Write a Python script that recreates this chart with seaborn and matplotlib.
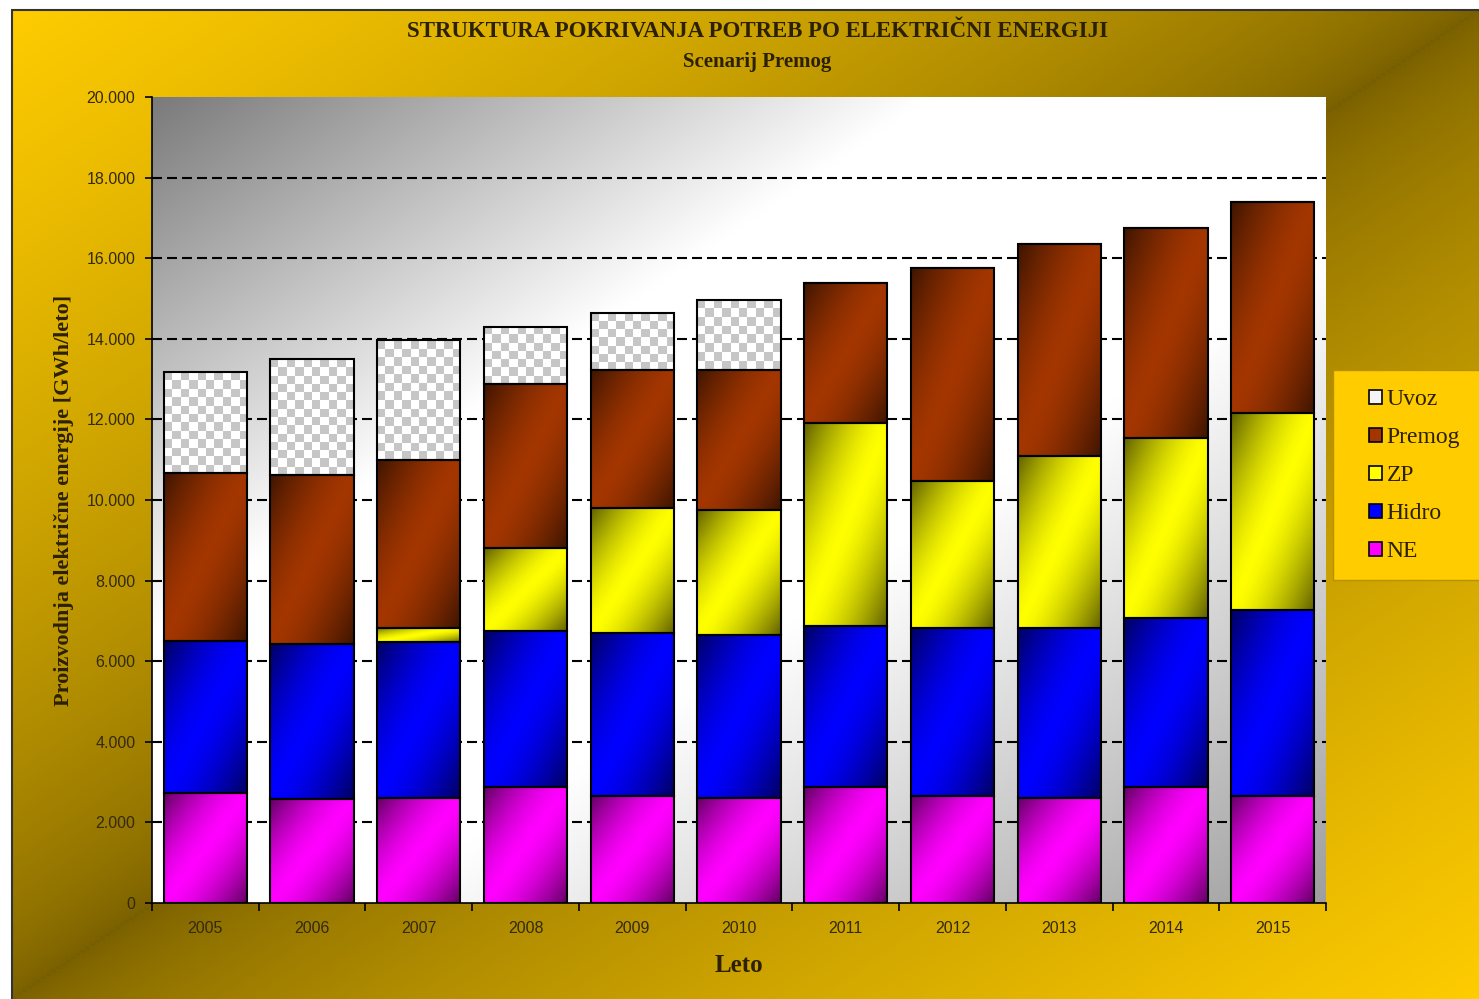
import numpy as np
import pandas as pd
import matplotlib.pyplot as plt
import seaborn as sns
from matplotlib.patches import Patch, Rectangle
from matplotlib.ticker import FuncFormatter

sns.set_theme(style="ticks")
plt.rcParams['font.family'] = ['Liberation Sans', 'DejaVu Sans']

years = ["2005", "2006", "2007", "2008", "2009", "2010", "2011", "2012", "2013", "2014", "2015"]
ne = [2730, 2580, 2610, 2880, 2660, 2610, 2880, 2660, 2610, 2880, 2660]
hidro = [3780, 3850, 3870, 3880, 4050, 4050, 4000, 4170, 4220, 4180, 4620]
zp = [0, 0, 350, 2040, 3080, 3080, 5020, 3630, 4270, 4470, 4870]
premog = [4170, 4200, 4170, 4070, 3430, 3480, 3480, 5290, 5250, 5220, 5240]
uvoz = [2490, 2860, 2960, 1420, 1410, 1740, 0, 0, 0, 0, 0]

series = ["NE", "Hidro", "ZP", "Premog", "Uvoz"]
df = pd.DataFrame({"Leto": years, "NE": ne, "Hidro": hidro, "ZP": zp, "Premog": premog, "Uvoz": uvoz})
colors = {"NE": "#FF00FF", "Hidro": "#0000FF", "ZP": "#FFFF00", "Premog": "#A33600", "Uvoz": "#F4F4F4"}

serif = "Liberation Serif"
dark_txt = "#2b2000"

fig = plt.figure(figsize=(14.79, 9.99), dpi=100)
fig.patch.set_facecolor("white")

# golden diagonal background of the whole chart
bg = fig.add_axes([12 / 1479, 0, 1 - 12 / 1479, 1 - 10 / 999], zorder=-10)
u = np.linspace(0, 1, 300)[None, :]
v = np.linspace(0, 1, 300)[:, None]
f = np.abs((u + v) / 2 - 0.5) * 2
bright = np.array([1.0, 0.80, 0.0])
darkc = np.array([0.47, 0.37, 0.0])
bg.imshow(darkc + (bright - darkc) * (f ** 0.65)[..., None], aspect="auto", extent=[0, 1, 0, 1])
bg.set_axis_off()
fig.add_artist(Rectangle((12 / 1479, -0.01), 1.0, 1 - 10 / 999 + 0.01, transform=fig.transFigure,
                         fill=False, edgecolor="#333333", lw=1.5))

ax = fig.add_axes([152 / 1479, 1 - 903 / 999, 1174 / 1479, 806 / 999])
ax.patch.set_alpha(0)

# grey plot area gradient
t = (u + v) / 2
g = np.ones_like(t)
g = np.where(t < 0.33, 0.48 + 0.52 * (t / 0.33), g)
g = np.where(t > 0.6, 1 - 0.38 * ((t - 0.6) / 0.4), g)
ax.imshow(np.repeat(g[..., None], 3, axis=2), extent=[-0.5, 10.5, 0, 20000], aspect="auto", zorder=0)

for yv in range(2000, 20000, 2000):
    ax.axhline(yv, color="black", lw=1.5, linestyle=(0, (4.8, 2.4)), zorder=1)

bottom = np.zeros(len(years))
for name in series:
    n_before = len(ax.patches)
    sns.barplot(data=df, x="Leto", y=name, bottom=bottom, color=colors[name], width=0.78,
                edgecolor="black", linewidth=1.5, saturation=1, ax=ax, zorder=2)
    new = ax.patches[n_before:]
    for p in new:
        x0, y0, w, h = p.get_x(), p.get_y(), p.get_width(), p.get_height()
        if h <= 0:
            continue
        if name == "Uvoz":
            ny = max(1, int(round(h / 20000 * 806 / 8.3)))
            ii, jj = np.indices((ny, 10))
            chk = ((ii + jj) % 2).astype(float)
            img = np.where(chk[..., None] > 0, 1.0, 0.78) * np.ones(3)
            im = ax.imshow(img, extent=[x0, x0 + w, y0 + h, y0], aspect="auto",
                           interpolation="nearest", zorder=2, origin="lower")
        else:
            uu = np.linspace(0, 1, 80)[None, :]
            vv = np.linspace(0, 1, 80)[:, None]
            ff = np.abs((uu + vv) / 2 - 0.5) * 2
            k = 1 - 0.62 * ff ** 1.5
            base = np.array(plt.matplotlib.colors.to_rgb(colors[name]))
            img = np.clip(base[None, None, :] * k[..., None], 0, 1)
            im = ax.imshow(img, extent=[x0, x0 + w, y0, y0 + h], aspect="auto",
                           interpolation="bilinear", zorder=2)
        im.set_clip_path(p)
        p.set_facecolor("none")
        p.set_zorder(3)
    bottom = bottom + df[name].to_numpy()

ax.set_xlim(-0.5, 10.5)
ax.set_ylim(0, 20000)
ax.set_yticks(range(0, 20001, 2000))
ax.yaxis.set_major_formatter(FuncFormatter(lambda val, pos: f"{int(val):,}".replace(",", ".")))
ax.set_xticks(range(len(years)))
ax.set_xticklabels(years)
ax.set_xticks(np.arange(-0.5, 11, 1), minor=True)
ax.tick_params(axis="x", which="major", length=0, pad=13, labelsize=11.5, labelcolor="#332a10")
ax.tick_params(axis="x", which="minor", length=6, width=1.2, color="black", direction="out")
ax.tick_params(axis="y", length=5, width=1.2, color="black", pad=7, labelsize=11.5, labelcolor="#332a10")
for s in ["top", "right"]:
    ax.spines[s].set_visible(False)
for s in ["left", "bottom"]:
    ax.spines[s].set_color("black")
    ax.spines[s].set_linewidth(1.2)

ax.set_xlabel("Leto", family=serif, fontweight="bold", fontsize=18, color=dark_txt, labelpad=13)
ax.set_ylabel("Proizvodnja električne energije [GWh/leto]", family=serif, fontweight="bold",
              fontsize=16, color=dark_txt, labelpad=9)

fig.text(0.512, 0.968, "STRUKTURA POKRIVANJA POTREB PO ELEKTRIČNI ENERGIJI", ha="center", va="center",
         family=serif, fontweight="bold", fontsize=16.5, color=dark_txt)
fig.text(0.512, 0.938, "Scenarij Premog", ha="center", va="center",
         family=serif, fontweight="bold", fontsize=15, color=dark_txt)

fig.add_artist(Rectangle((1333 / 1479, 1 - 580 / 999), 0.2, 210 / 999, transform=fig.transFigure,
                         facecolor="#FFCC00", edgecolor="#B89000", lw=1, zorder=5))
handles = [Patch(facecolor=colors[n], edgecolor="black", lw=1.2) for n in series[::-1]]
leg = fig.legend(handles, series[::-1], loc="center left", bbox_to_anchor=(1369 / 1479, 1 - 476 / 999),
                 frameon=False, prop={"family": serif, "size": 17}, handlelength=0.55, handleheight=0.55,
                 handletextpad=0.2, labelspacing=0.72, borderaxespad=0, borderpad=0)
leg.set_zorder(6)
for txt in leg.get_texts():
    txt.set_color(dark_txt)

fig.savefig("out.png", dpi=100)
